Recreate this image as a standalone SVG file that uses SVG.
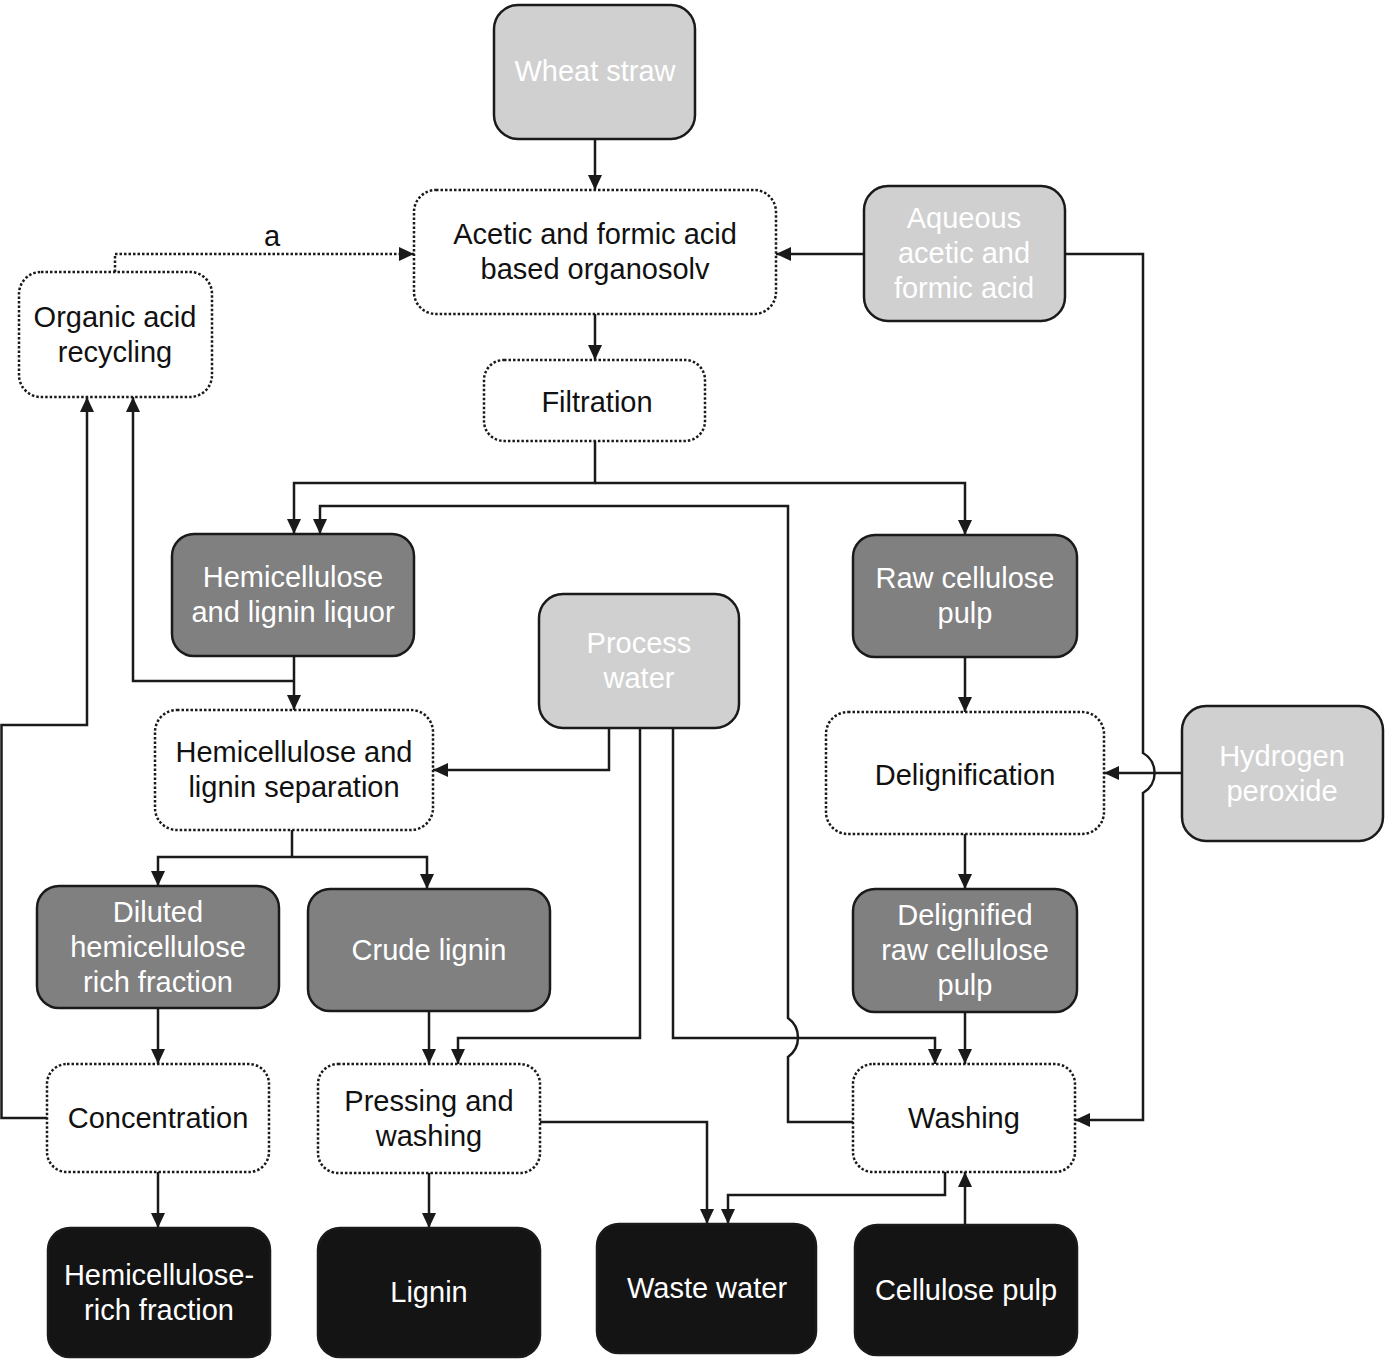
<svg xmlns="http://www.w3.org/2000/svg" width="1388" height="1359" viewBox="0 0 1388 1359">
<defs>
<style>
.n rect{stroke:#1a1a1a;stroke-width:2.5}
.light rect{fill:#d0d0d0}
.dark rect{fill:#808080}
.black rect{fill:#141414}
.proc rect{fill:#ffffff;stroke-dasharray:2.5 2}
text{font-family:"Liberation Sans",Arial,Helvetica,sans-serif;font-size:29px;text-anchor:middle}
.light text,.dark text,.black text{fill:#ffffff}
.proc text,.lbl{fill:#111111}
#connectors path{fill:none;stroke:#1a1a1a;stroke-width:2.5}
#connectors path.dot{stroke-dasharray:2.5 2}
</style>
<marker id="ah" markerWidth="15" markerHeight="14" refX="15" refY="7" orient="auto" markerUnits="userSpaceOnUse">
<path d="M0,0 L15,7 L0,14 z" fill="#1a1a1a"/>
</marker>
</defs>
<rect width="1388" height="1359" fill="#ffffff"/>

<g id="connectors">
<path d="M595 139 V190" marker-end="url(#ah)"/>
<path class="dot" d="M115 272 V254 H414" marker-end="url(#ah)"/>
<path d="M864 254 H776" marker-end="url(#ah)"/>
<path d="M595 314 V360" marker-end="url(#ah)"/>
<path d="M595 441 V483 H294 V534" marker-end="url(#ah)"/>
<path d="M595 483 H965 V535" marker-end="url(#ah)"/>
<path d="M853 1122 H788 V1057 A24 24 0 0 0 788 1018 V506 H320 V534" marker-end="url(#ah)"/>
<path d="M965 657 V712" marker-end="url(#ah)"/>
<path d="M965 834 V889" marker-end="url(#ah)"/>
<path d="M965 1012 V1064" marker-end="url(#ah)"/>
<path d="M294 656 V710" marker-end="url(#ah)"/>
<path d="M294 681 H133 V397" marker-end="url(#ah)"/>
<path d="M47 1118 H1.5 V725 H87 V397" marker-end="url(#ah)"/>
<path d="M609 728 V770 H433" marker-end="url(#ah)"/>
<path d="M640 728 V1038 H458 V1064" marker-end="url(#ah)"/>
<path d="M673 728 V1038 H935 V1064" marker-end="url(#ah)"/>
<path d="M292 830 V857"/>
<path d="M292 857 H158 V886" marker-end="url(#ah)"/>
<path d="M292 857 H427 V889" marker-end="url(#ah)"/>
<path d="M158 1008 V1064" marker-end="url(#ah)"/>
<path d="M429 1011 V1064" marker-end="url(#ah)"/>
<path d="M158 1172 V1228" marker-end="url(#ah)"/>
<path d="M429 1173 V1228" marker-end="url(#ah)"/>
<path d="M540 1122 H707 V1224" marker-end="url(#ah)"/>
<path d="M945 1172 V1195 H728 V1224" marker-end="url(#ah)"/>
<path d="M965 1225 V1172" marker-end="url(#ah)"/>
<path d="M1065 254 H1143 V753 A23 23 0 0 1 1143 793 V1120 H1075" marker-end="url(#ah)"/>
<path d="M1182 773 H1104" marker-end="url(#ah)"/>
<text class="lbl" x="272" y="246">a</text>
</g>

<g id="wheat-straw" class="n light"><rect x="494" y="5" width="201" height="134" rx="24"/><text x="595" y="81">Wheat straw</text></g>
<g id="organosolv" class="n proc"><rect x="414" y="190" width="362" height="124" rx="22"/><text x="595" y="244">Acetic and formic acid</text><text x="595" y="279">based organosolv</text></g>
<g id="aqueous-acid" class="n light"><rect x="864" y="186" width="201" height="135" rx="24"/><text x="964" y="228">Aqueous</text><text x="964" y="263">acetic and</text><text x="964" y="298">formic acid</text></g>
<g id="acid-recycling" class="n proc"><rect x="19" y="272" width="193" height="125" rx="22"/><text x="115" y="327">Organic acid</text><text x="115" y="362">recycling</text></g>
<g id="filtration" class="n proc"><rect x="484" y="360" width="221" height="81" rx="20"/><text x="597" y="412">Filtration</text></g>
<g id="liquor" class="n dark"><rect x="172" y="534" width="242" height="122" rx="22"/><text x="293" y="587">Hemicellulose</text><text x="293" y="622">and lignin liquor</text></g>
<g id="raw-pulp" class="n dark"><rect x="853" y="535" width="224" height="122" rx="22"/><text x="965" y="588">Raw cellulose</text><text x="965" y="623">pulp</text></g>
<g id="process-water" class="n light"><rect x="539" y="594" width="200" height="134" rx="24"/><text x="639" y="653">Process</text><text x="639" y="688">water</text></g>
<g id="separation" class="n proc"><rect x="155" y="710" width="278" height="120" rx="22"/><text x="294" y="762">Hemicellulose and</text><text x="294" y="797">lignin separation</text></g>
<g id="delignification" class="n proc"><rect x="826" y="712" width="278" height="122" rx="22"/><text x="965" y="785">Delignification</text></g>
<g id="hydrogen-peroxide" class="n light"><rect x="1182" y="706" width="201" height="135" rx="24"/><text x="1282" y="766">Hydrogen</text><text x="1282" y="801">peroxide</text></g>
<g id="diluted" class="n dark"><rect x="37" y="886" width="242" height="122" rx="22"/><text x="158" y="922">Diluted</text><text x="158" y="957">hemicellulose</text><text x="158" y="992">rich fraction</text></g>
<g id="crude-lignin" class="n dark"><rect x="308" y="889" width="242" height="122" rx="22"/><text x="429" y="960">Crude lignin</text></g>
<g id="delignified-pulp" class="n dark"><rect x="853" y="889" width="224" height="123" rx="22"/><text x="965" y="925">Delignified</text><text x="965" y="960">raw cellulose</text><text x="965" y="995">pulp</text></g>
<g id="concentration" class="n proc"><rect x="47" y="1064" width="222" height="108" rx="20"/><text x="158" y="1128">Concentration</text></g>
<g id="pressing" class="n proc"><rect x="318" y="1064" width="222" height="109" rx="20"/><text x="429" y="1111">Pressing and</text><text x="429" y="1146">washing</text></g>
<g id="washing" class="n proc"><rect x="853" y="1064" width="222" height="108" rx="20"/><text x="964" y="1128">Washing</text></g>
<g id="hemi-fraction" class="n black"><rect x="48" y="1228" width="222" height="129" rx="22"/><text x="159" y="1285">Hemicellulose-</text><text x="159" y="1320">rich fraction</text></g>
<g id="lignin" class="n black"><rect x="318" y="1228" width="222" height="129" rx="22"/><text x="429" y="1302">Lignin</text></g>
<g id="waste-water" class="n black"><rect x="597" y="1224" width="219" height="129" rx="22"/><text x="707" y="1298">Waste water</text></g>
<g id="cellulose-pulp" class="n black"><rect x="855" y="1225" width="222" height="130" rx="22"/><text x="966" y="1300">Cellulose pulp</text></g>
</svg>
